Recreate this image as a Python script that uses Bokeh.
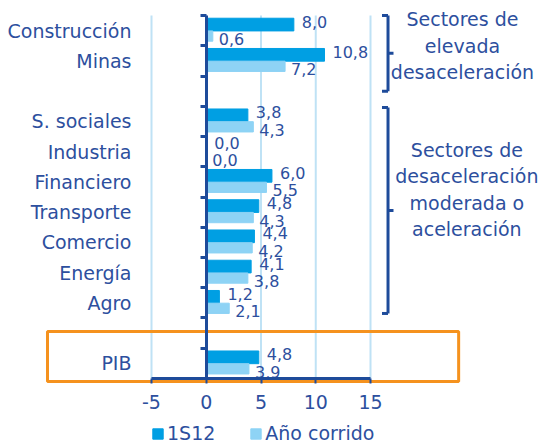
from bokeh.plotting import figure
from bokeh.models import (Range1d, LinearAxis, FixedTicker, ColumnDataSource,
                          Legend, LegendItem, BoxAnnotation)
from bokeh.transform import dodge
from bokeh.core.properties import value
from bokeh.embed import file_html
from bokeh.resources import INLINE

# ---- data ----
categories = ["Construcción", "Minas", " ", "S. sociales", "Industria", "Financiero",
              "Transporte", "Comercio", "Energía", "Agro", "  ", "PIB"]
sectors = ["Construcción", "Minas", "S. sociales", "Industria", "Financiero",
           "Transporte", "Comercio", "Energía", "Agro", "PIB"]
s1_values = [8.0, 10.8, 3.8, 0.0, 6.0, 4.8, 4.4, 4.1, 1.2, 4.8]      # 1S12
ac_values = [0.6, 7.2, 4.3, 0.0, 5.5, 4.3, 4.2, 3.8, 2.1, 3.9]       # Año corrido
series_names = ["1S12", "Año corrido"]
x_ticks = [-5, 0, 5, 10, 15]
group_texts = ["Sectores de\nelevada\ndesaceleración",
               "Sectores de\ndesaceleración\nmoderada o\naceleración"]

# ---- styles ----
FONT = "DejaVu Sans"
TXT = "#2D4F9E"
AXC = "#1E4B9A"
DARK = "#009FE3"
LIGHT = "#8ED3F5"
GRID = "#BFE2F5"
ORANGE = "#F5921E"

def fmt(v):
    return f"{v:.1f}".replace(".", ",")

n = len(categories)
ypos = {c: n - 0.5 - i for i, c in enumerate(categories)}   # slot centres, top to bottom
labelled = [c for c in categories if c.strip()]

src = ColumnDataSource(dict(
    cat=sectors, y=[ypos[c] for c in sectors], s1=s1_values, ac=ac_values,
    s1_lab=[fmt(v) for v in s1_values], ac_lab=[fmt(v) for v in ac_values],
))

xr = Range1d(-18.790, 30.525)
yr = Range1d(-2.215, 12.496)

p = figure(width=540, height=445, x_range=xr, y_range=yr,
           output_backend="svg", toolbar_location=None,
           min_border_left=0, min_border_right=0, min_border_top=0, min_border_bottom=0)
p.outline_line_color = None
p.xgrid.visible = False
p.ygrid.visible = False

# PIB highlight box (under the axes)
p.add_layout(BoxAnnotation(left=-14.5, right=23.05, top=ypos["PIB"] + 1.05, bottom=-0.1,
                           fill_alpha=0, line_color=ORANGE, line_alpha=1, line_width=3,
                           level="underlay"))

# x axis along the bottom of the categories
p.xaxis.fixed_location = 0
p.xaxis.ticker = FixedTicker(ticks=x_ticks)
p.xaxis.major_label_overrides = {t: str(t) for t in x_ticks}
p.xaxis.bounds = (x_ticks[0], x_ticks[-1])
p.xaxis.axis_line_color = AXC
p.xaxis.axis_line_width = 3
p.xaxis.major_tick_line_color = AXC
p.xaxis.major_tick_line_width = 2
p.xaxis.major_tick_out = 5
p.xaxis.major_tick_in = 0
p.xaxis.minor_tick_line_color = None
p.xaxis.major_label_text_font = FONT
p.xaxis.major_label_text_font_size = "19px"
p.xaxis.major_label_text_color = TXT
p.xaxis.major_label_standoff = 12

# category labels axis at x = -5
p.yaxis.fixed_location = x_ticks[0]
p.yaxis.ticker = FixedTicker(ticks=[ypos[c] for c in labelled])
p.yaxis.major_label_overrides = {ypos[c]: c for c in labelled}
p.yaxis.axis_line_color = None
p.yaxis.major_tick_line_color = None
p.yaxis.minor_tick_line_color = None
p.yaxis.major_tick_out = 0
p.yaxis.major_label_standoff = 20
p.yaxis.major_label_text_font = FONT
p.yaxis.major_label_text_font_size = "19px"
p.yaxis.major_label_text_color = TXT

# zero axis with ticks on the slot boundaries
zax = LinearAxis(fixed_location=0, bounds=(0, n),
                 ticker=FixedTicker(ticks=list(range(n + 1))),
                 major_label_overrides={i: "" for i in range(n + 1)},
                 axis_line_color=AXC, axis_line_width=3,
                 major_tick_line_color=AXC, major_tick_line_width=3,
                 major_tick_out=6, major_tick_in=0, minor_tick_line_color=None)
p.add_layout(zax, "left")

# vertical grid lines over the category area
p.segment(x0=x_ticks, y0=[0] * len(x_ticks), x1=x_ticks, y1=[n] * len(x_ticks),
          line_color=GRID, line_width=2, level="underlay")

# bars
r1 = p.hbar(y=dodge("y", 0.2), left=0, right="s1", height=0.42, color=DARK, source=src)
r2 = p.hbar(y=dodge("y", -0.18), left=0, right="ac", height=0.34, color=LIGHT, source=src)

# data labels
p.text(x="s1", y=dodge("y", 0.2), text="s1_lab", source=src,
       x_offset=8, y_offset=-3, text_align="left", text_baseline="middle",
       text_font=value(FONT), text_font_size="16px", text_color=TXT)
p.text(x="ac", y=dodge("y", -0.18), text="ac_lab", source=src,
       x_offset=6, y_offset=3, text_align="left", text_baseline="middle",
       text_font=value(FONT), text_font_size="16px", text_color=TXT)

# group brackets
bx = 16.6
tops = [ypos["Construcción"] + 0.5, ypos["S. sociales"] + 0.46]
bots = [ypos[" "], ypos["Agro"] - 0.35]
x0, y0, x1, y1 = [], [], [], []
for t, b in zip(tops, bots):
    m = (t + b) / 2
    x0 += [bx, bx - 0.55, bx - 0.55, bx]
    y0 += [t, t, b, m]
    x1 += [bx, bx, bx, bx + 0.5]
    y1 += [b, t, b, m]
p.segment(x0=x0, y0=y0, x1=x1, y1=y1, line_color=AXC, line_width=3)

p.text(x=[23.4, 23.8], y=[ypos["Minas"] + 0.5, ypos["Financiero"] - 0.25], text=group_texts,
       text_align="center", text_baseline="middle", text_font=value(FONT),
       text_font_size="19px", text_color=TXT, text_line_height=1.2)

legend = Legend(items=[LegendItem(label=series_names[0], renderers=[r1]),
                       LegendItem(label=series_names[1], renderers=[r2])],
                orientation="horizontal", location=(151, 1),
                glyph_width=13, glyph_height=13, label_standoff=3, spacing=34,
                padding=0, margin=0, border_line_color=None, background_fill_alpha=0,
                label_text_font=FONT, label_text_font_size="19px", label_text_color=TXT)
p.add_layout(legend, "center")

open("out.html", "w").write(file_html(p, INLINE))
